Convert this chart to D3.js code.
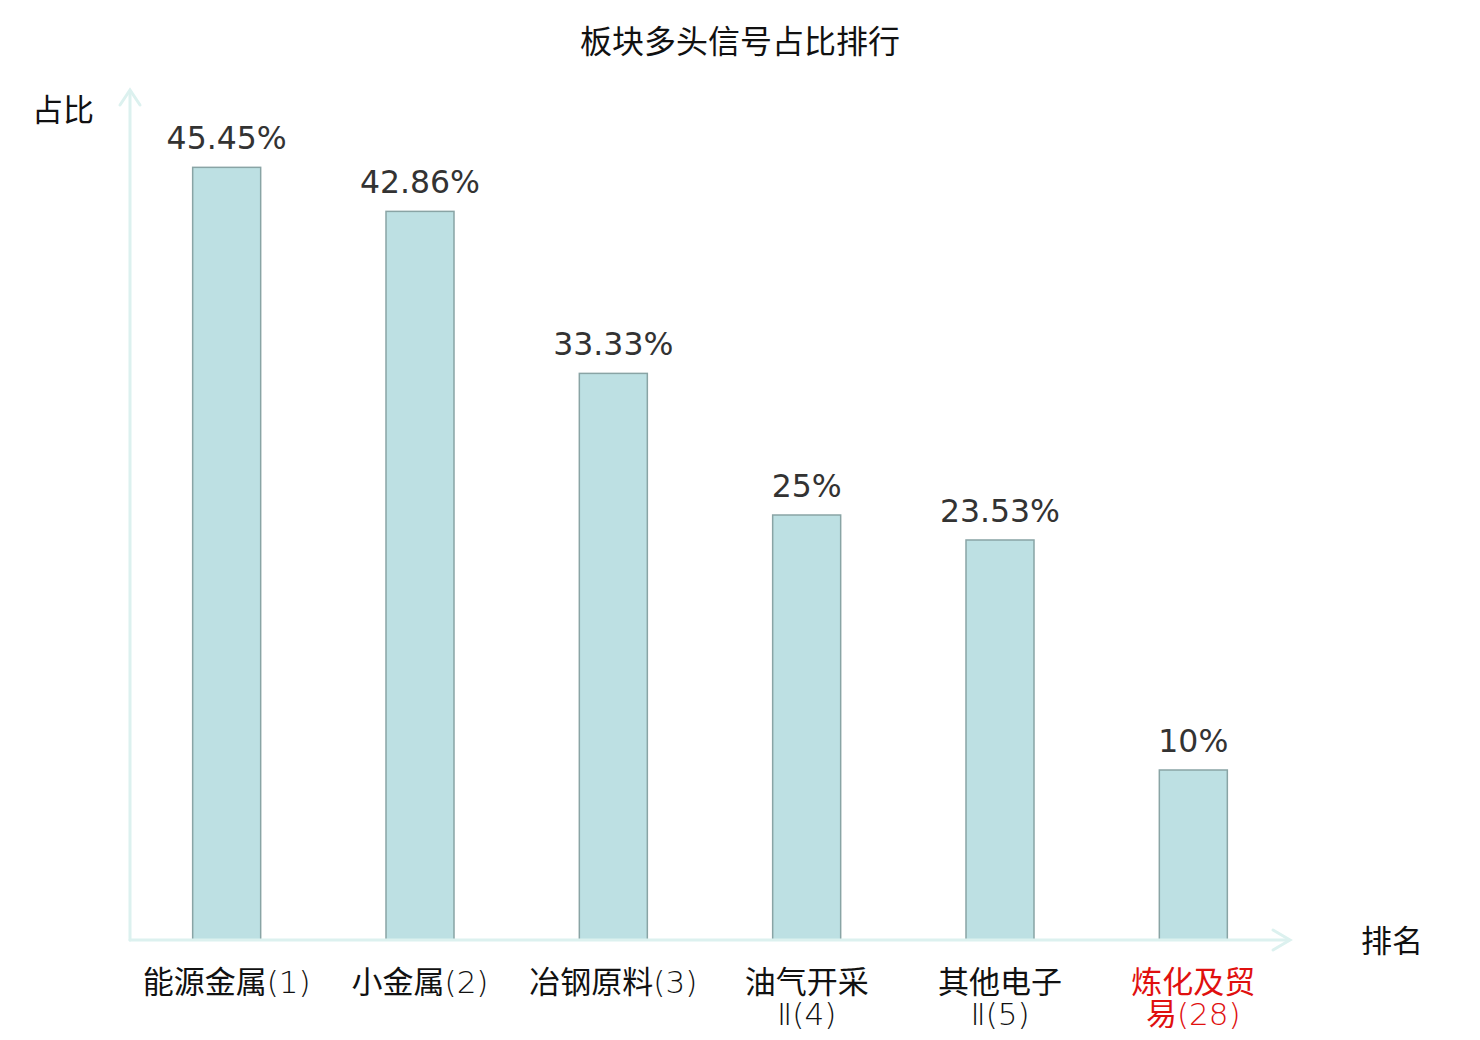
<!DOCTYPE html>
<html><head><meta charset="utf-8">
<script src="https://cdn.jsdelivr.net/npm/d3@7/dist/d3.min.js"></script>
<style>
html,body{margin:0;padding:0;background:#fff;}
svg{display:block;}
text{font-family:"Noto Sans CJK SC","Noto Sans",sans-serif;}
</style></head>
<body><svg id="chart" width="1480" height="1040"></svg>
<script>
const title = "板块多头信号占比排行";
const categories = ["能源金属(1)", "小金属(2)", "冶钢原料(3)", "油气开采Ⅱ(4)", "其他电子Ⅱ(5)", "炼化及贸易(28)"];
const categoryLines = [["能源金属(1)"], ["小金属(2)"], ["冶钢原料(3)"], ["油气开采", "Ⅱ(4)"], ["其他电子", "Ⅱ(5)"], ["炼化及贸", "易(28)"]];
const values = [45.45, 42.86, 33.33, 25, 23.53, 10];
const valueLabels = ["45.45%", "42.86%", "33.33%", "25%", "23.53%", "10%"];
const highlight = ["炼化及贸易(28)"];
const yAxisName = "占比";
const xAxisName = "排名";
const yMax = 50;

(function(){
const svg = d3.select("#chart");
const mLeft = 130, mRight = 1290, mTop = 90, mBottom = 940;
const x = d3.scaleBand().domain(categories).range([mLeft, mRight]).paddingInner(0).paddingOuter(0);
const y = d3.scaleLinear().domain([0, yMax]).range([mBottom, mTop]);
const barW = 68;
const axisColor = "#dcf1ef";

svg.append("text").attr("x", 740).attr("y", 53).attr("text-anchor", "middle")
  .attr("font-size", 32).attr("fill", "#111").text(title);

// bars
svg.append("g").selectAll("rect").data(categories).join("rect")
  .attr("x", d => x(d) + x.bandwidth()/2 - barW/2)
  .attr("y", (d,i) => y(values[i]))
  .attr("width", barW)
  .attr("height", (d,i) => y(0) - y(values[i]))
  .attr("fill", "#bde0e3").attr("stroke", "#89a4a5").attr("stroke-width", 1.5);

// value labels
svg.append("g").selectAll("text").data(categories).join("text")
  .attr("x", d => x(d) + x.bandwidth()/2)
  .attr("y", (d,i) => y(values[i]) - 18)
  .attr("text-anchor", "middle")
  .style("font-family", "'DejaVu Sans', sans-serif")
  .attr("font-size", 31.5).attr("fill", "#333")
  .text((d,i) => valueLabels[i]);

// axes
const ax = svg.append("g").attr("stroke", axisColor).attr("stroke-width", 3).attr("fill", "none")
  .attr("stroke-linecap", "round");
ax.append("line").attr("x1", mLeft).attr("y1", mBottom).attr("x2", mLeft).attr("y2", mTop + 1);
ax.append("line").attr("x1", mLeft).attr("y1", mBottom).attr("x2", mRight - 1).attr("y2", mBottom);
ax.append("path").attr("d", `M${mLeft-10},${mTop+15}L${mLeft},${mTop}L${mLeft+10},${mTop+15}`);
ax.append("path").attr("d", `M${mRight-17},${mBottom-10}L${mRight},${mBottom}L${mRight-17},${mBottom+10}`);

svg.append("text").attr("x", 63).attr("y", 121).attr("text-anchor", "middle")
  .attr("font-size", 31).attr("fill", "#111").text(yAxisName);
svg.append("text").attr("x", 1392).attr("y", 952).attr("text-anchor", "middle")
  .attr("font-size", 31).attr("fill", "#111").text(xAxisName);

// category labels: CJK runs regular, other runs thin
const isCJK = ch => /[\u3400-\u9fff]/.test(ch);
const lab = svg.append("g");
categories.forEach((c, ci) => {
  const cx = x(c) + x.bandwidth()/2;
  const t = lab.append("text")
    .attr("y", 993)
    .attr("text-anchor", "middle").attr("font-size", 31)
    .attr("fill", highlight.includes(c) ? "#e0100f" : "#111");
  categoryLines[ci].forEach((l, li) => {
    const runs = [];
    Array.from(l).forEach(ch => {
      const k = isCJK(ch);
      if (runs.length && runs[runs.length-1].k === k) runs[runs.length-1].s += ch;
      else runs.push({k, s: ch});
    });
    runs.forEach((r, ri) => {
      const sp = t.append("tspan").text(r.s);
      if (ri === 0) sp.attr("x", cx).attr("dy", li === 0 ? 0 : 32);
      if (!r.k) sp.style("font-family", "'DejaVu Sans', sans-serif").attr("font-weight", 200);
    });
  });
});
})();
</script></body></html>
